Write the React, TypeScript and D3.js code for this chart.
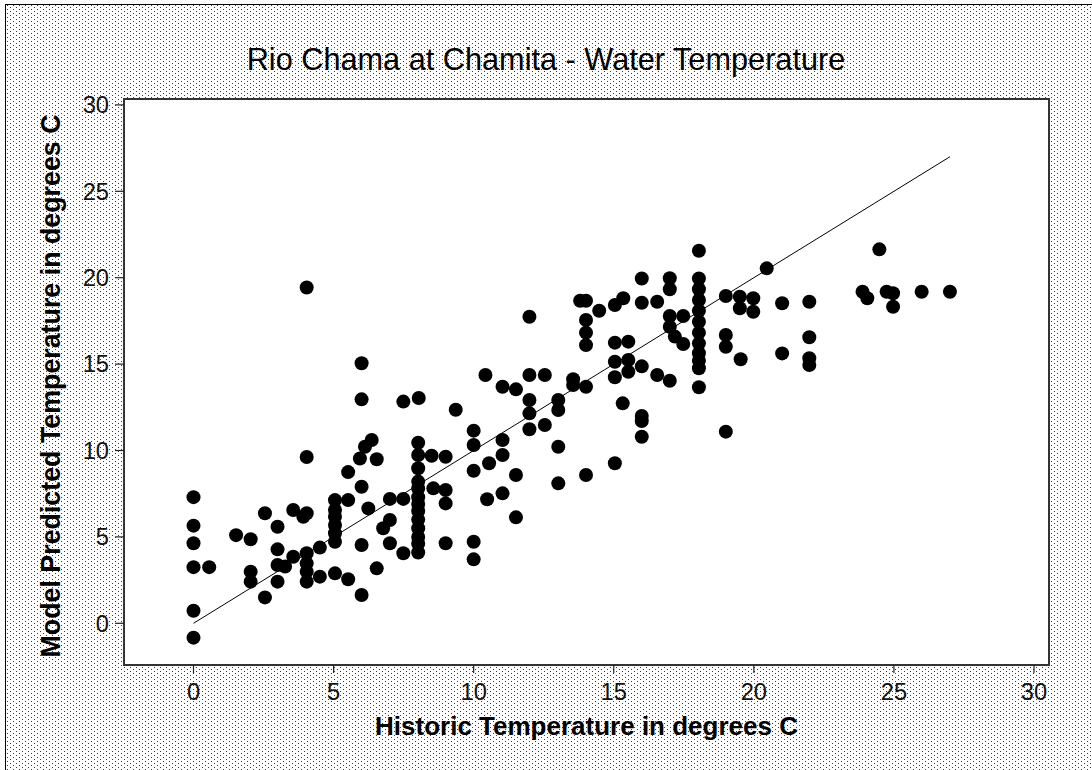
import React from "react";
import * as d3 from "d3";

// Historic temperature (x) and model predicted temperature (y), degrees C
const historic: number[] = [
  0, 0, 0, 0, 0, 0, 0.56, 1.52, 2.04, 2.04, 2.04, 2.55, 2.55,
  3.0, 3.0, 3.0, 3.27, 3.0, 3.56, 3.92, 4.04, 3.56,
  4.04, 4.04, 4.04, 4.04, 4.04, 4.04, 4.51, 4.51,
  5.05, 5.05, 5.05, 5.05, 5.05, 5.05, 5.05, 5.52, 5.52, 5.52,
  6.0, 6.0, 6.0, 6.0, 6.0, 5.94, 6.12, 6.36, 6.54, 6.24, 6.54,
  6.77, 7.01, 7.01, 7.49, 7.01, 7.49, 7.49, 8.04,
  8.02, 8.02, 8.02, 8.02, 8.02, 8.02, 8.02, 8.02, 8.02, 8.02, 8.02, 8.02, 8.02,
  8.5, 9.0, 8.56, 9.0, 9.0, 9.0, 9.36,
  10.0, 10.0, 10.0, 10.0, 10.0, 10.42, 10.55, 10.48,
  11.03, 11.51, 11.03, 11.03, 11.51, 11.03, 11.51,
  11.99, 11.99, 12.54, 11.99, 11.99, 11.99, 12.54,
  13.02, 13.02, 13.02, 13.02, 13.55, 13.55, 14.01, 14.01,
  13.8, 14.01, 14.01, 14.01, 14.01, 14.48, 15.04, 15.34, 16.0, 16.0,
  15.04, 15.52, 15.04, 15.04, 15.52, 15.52, 16.0, 15.32,
  16.0, 16.0, 16.0, 15.04, 16.55,
  17.0, 17.0, 17.0, 17.0, 17.48, 17.18, 17.48, 16.55, 17.0,
  18.04, 18.04, 18.04, 18.04, 18.04, 18.04, 18.04, 18.04, 18.04, 18.04, 18.04, 18.04,
  19.0, 19.5, 19.5, 19.98, 19.98, 20.46, 21.01, 19.0, 19.0, 19.53, 21.01, 19.0,
  24.48, 23.88, 24.05, 24.74, 24.97, 24.97, 25.99, 27.0,
  21.98, 21.98, 21.98, 21.98,
];

const predicted: number[] = [
  7.3, 5.65, 4.63, 3.25, 0.73, -0.83, 3.25, 5.1, 4.86, 2.99, 2.41, 6.37, 1.5,
  5.59, 4.28, 3.37, 3.28, 2.41, 6.56, 6.17, 6.37, 3.85,
  19.43, 9.62, 4.05, 3.47, 2.99, 2.41, 4.38, 2.7,
  7.13, 6.56, 6.17, 5.69, 5.21, 4.72, 2.89, 8.75, 7.13, 2.55,
  15.05, 12.96, 7.9, 4.53, 1.64, 9.54, 10.22, 10.61, 9.49, 6.65, 3.18,
  5.5, 5.98, 7.2, 7.2, 4.63, 4.05, 12.83, 13.04,
  10.45, 9.74, 8.97, 8.2, 7.8, 7.3, 6.9, 6.5, 6.0, 5.5, 5.0, 4.6, 4.1,
  9.7, 9.64, 7.81, 7.71, 6.94, 4.63, 12.36,
  11.15, 10.32, 8.83, 4.72, 3.7, 14.37, 9.26, 7.18,
  13.69, 13.54, 10.61, 9.74, 8.58, 7.52, 6.13,
  17.74, 14.37, 14.37, 12.92, 12.15, 11.23, 11.48,
  12.92, 12.34, 10.22, 8.1, 14.12, 13.79, 13.69, 8.58,
  18.67, 18.67, 17.55, 16.82, 16.1, 18.09, 18.42, 18.81, 18.55, 19.95,
  16.24, 16.3, 15.14, 14.24, 15.24, 14.56, 14.87, 12.73,
  12.0, 11.7, 10.8, 9.26, 18.61,
  19.97, 19.33, 17.78, 17.16, 17.78, 16.59, 16.16, 14.37, 14.04,
  21.56, 19.95, 19.33, 18.71, 18.09, 17.45, 16.82, 16.2, 15.63, 15.2, 14.76, 13.66,
  18.94, 18.9, 18.23, 18.81, 18.03, 20.54, 18.52, 16.68, 16.0, 15.28, 15.62, 11.09,
  21.64, 19.19, 18.81, 19.19, 19.1, 18.32, 19.19, 19.19,
  18.61, 16.55, 15.34, 14.95,
];

const xTicks: number[] = [0, 5, 10, 15, 20, 25, 30];
const yTicks: number[] = [0, 5, 10, 15, 20, 25, 30];
const fitLine: [number, number][] = [[0, 0], [27, 27]];

const title = "Rio Chama at Chamita - Water Temperature";
const xLabel = "Historic Temperature in degrees C";
const yLabel = "Model Predicted Temperature in degrees C";

export default function App() {
  const W = 1092;
  const H = 770;
  const left = 124, right = 1049, top = 99, bottom = 665;

  const x = d3.scaleLinear().domain([0, 30]).range([193.5, 1034]);
  const y = d3.scaleLinear().domain([0, 30]).range([623.3, 104.9]);

  const line = d3.line<[number, number]>().x((d) => x(d[0])).y((d) => y(d[1]));
  const font = "'Liberation Sans', Arial, sans-serif";

  return (
    <div style={{ position: "absolute", left: 0, top: 0 }}>
      <svg width={W} height={H} style={{ display: "block" }}>
        <defs>
          <pattern id="dots" patternUnits="userSpaceOnUse" width={6} height={4}>
            <rect x={1} y={1} width={1} height={1} fill="#3a3a3a" />
            <rect x={4} y={3} width={1} height={1} fill="#3a3a3a" />
          </pattern>
        </defs>
        <rect x={0} y={0} width={W} height={H} fill="#fff" />
        <rect x={5} y={4} width={W - 5} height={H - 4} fill="url(#dots)" />
        <line x1={5} y1={4.5} x2={W} y2={4.5} stroke="#000" strokeWidth={1} />
        <line x1={5.5} y1={4} x2={5.5} y2={H} stroke="#000" strokeWidth={1} />

        <rect x={left} y={top} width={right - left} height={bottom - top} fill="#fff" stroke="#333" strokeWidth={2} />

        <text x={W / 2} y={70} textAnchor="middle" fontFamily={font} fontSize={30.7} fill="#000">
          {title}
        </text>

        {xTicks.map((t) => (
          <g key={"x" + t}>
            <line x1={x(t)} x2={x(t)} y1={bottom} y2={bottom + 8} stroke="#222" strokeWidth={1.2} />
            <text x={x(t)} y={700} textAnchor="middle" fontFamily={font} fontSize={23.7} fill="#111">
              {t}
            </text>
          </g>
        ))}
        {yTicks.map((t) => (
          <g key={"y" + t}>
            <line x1={left - 9} x2={left} y1={y(t)} y2={y(t)} stroke="#222" strokeWidth={1.2} />
            <text x={109} y={y(t)} dy="0.35em" textAnchor="end" fontFamily={font} fontSize={23.7} fill="#111">
              {t}
            </text>
          </g>
        ))}

        <text x={(left + right) / 2} y={735} textAnchor="middle" fontFamily={font} fontSize={26} fontWeight="bold" fill="#000">
          {xLabel}
        </text>
        <text
          transform={`translate(60, ${(top + bottom) / 2 + 4}) rotate(-90)`}
          textAnchor="middle"
          fontFamily={font}
          fontSize={26.8}
          fontWeight="bold"
          fill="#000"
        >
          {yLabel}
        </text>

        <path d={line(fitLine) || ""} fill="none" stroke="#000" strokeWidth={1} />

        {historic.map((h, i) => (
          <circle key={i} cx={x(h)} cy={y(predicted[i])} r={7} fill="#000" />
        ))}
      </svg>
    </div>
  );
}
